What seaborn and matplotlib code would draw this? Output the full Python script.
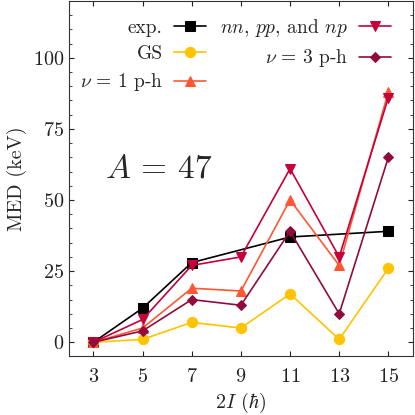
import matplotlib
matplotlib.use("Agg")
import matplotlib.pyplot as plt
import seaborn as sns
import pandas as pd
from matplotlib.ticker import MultipleLocator

# spins 2I
spins = [3, 5, 7, 9, 11, 13, 15]
exp_spins = [3, 5, 7, 11, 15]
exp_med = [0, 12, 28, 37, 39]
gs_med = [0, 1, 7, 5, 17, 1, 26]
ph1_med = [0, 5, 19, 18, 50, 27, 88]
nnppnp_med = [0, 8, 27, 30, 61, 30, 86]
ph3_med = [0, 4, 15, 13, 39, 10, 65]

sns.set_style("ticks")
plt.rcParams['font.family'] = 'cmr10'
plt.rcParams['mathtext.fontset'] = 'cm'
plt.rcParams['axes.formatter.use_mathtext'] = True

fig = plt.figure(figsize=(4.15, 4.15), dpi=100)
ax = fig.add_axes([0.166, 0.141, 0.829, 0.857])

series = [
    (exp_spins, exp_med, "exp.", "black", "s", 7.2),
    (spins, gs_med, "GS", "#FFC300", "o", 7.4),
    (spins, ph1_med, r"$\nu\,=\,1$ p-h", "#FF5733", "^", 7.2),
    (spins, nnppnp_med, r"$nn$, $pp$, and $np$", "#C70039", "v", 7.2),
    (spins, ph3_med, r"$\nu\,=\,3$ p-h", "#900C3F", "D", 5.6),
]
for xs, ys, lab, col, mk, ms in series:
    df = pd.DataFrame({"x": xs, "y": ys})
    sns.lineplot(data=df, x="x", y="y", ax=ax, color=col, marker=mk,
                 markersize=ms, markeredgecolor=col, linewidth=1.2, label=lab)

ax.set_xlim(2, 16)
ax.set_ylim(-5, 120)
ax.set_xticks(spins)
ax.set_yticks([0, 25, 50, 75, 100])
ax.yaxis.set_minor_locator(MultipleLocator(5))
ax.tick_params(which="both", direction="in", top=True, right=True,
               labelsize=14.5, colors="#222222")
ax.tick_params(axis="x", pad=8)
for s in ax.spines.values():
    s.set_color("#333333")
ax.set_xlabel(r"$2I$ ($\hbar$)", fontsize=14.5, labelpad=4)
ax.set_ylabel("MED (keV)", fontsize=14.5, labelpad=4)

ax.text(5.63, 61, r"$A\,=\,47$", fontsize=24, ha="center", va="center")

ax.legend(ncol=2, loc="upper right", bbox_to_anchor=(1.0, 1.017),
          frameon=False, markerfirst=False,
          fontsize=14, handlelength=1.6, handletextpad=0.6,
          columnspacing=0.75, labelspacing=0.42, borderaxespad=0.75)

fig.savefig("out.png", dpi=100)
